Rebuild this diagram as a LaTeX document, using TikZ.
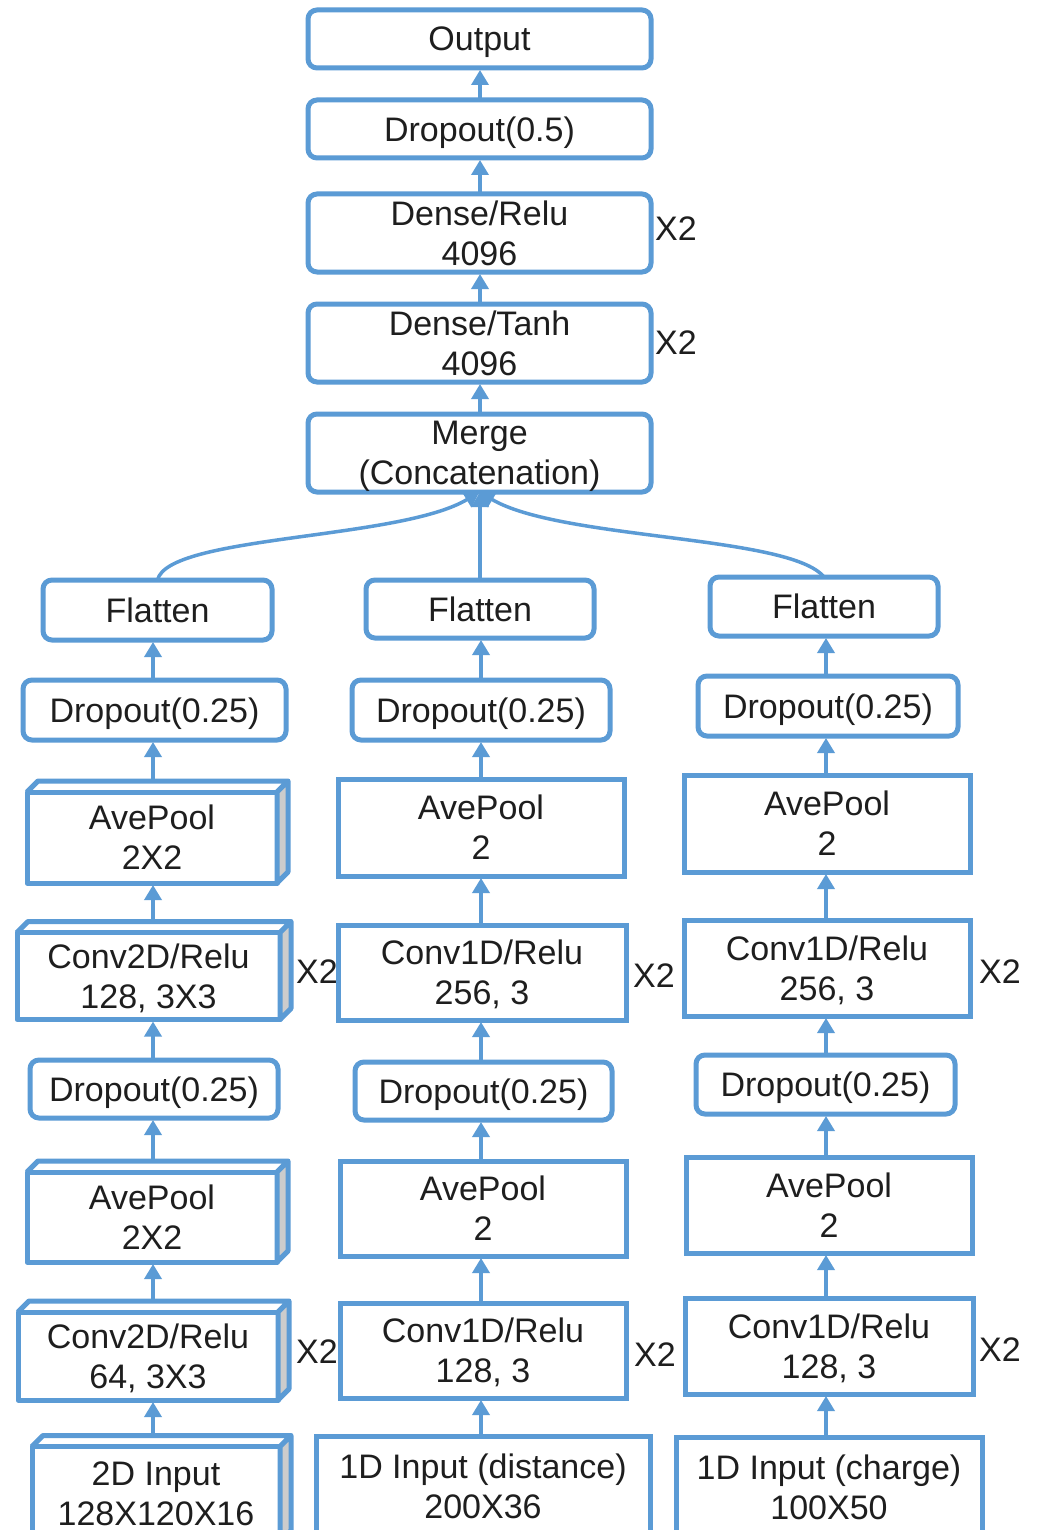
\documentclass[tikz,border=0pt]{standalone}
\usepackage{fontspec}
\setmainfont{Liberation Sans}
\usetikzlibrary{arrows.meta,calc}
\definecolor{lineblue}{HTML}{5B9BD5}
\definecolor{txt}{HTML}{1E1E1E}
\tikzset{
 base/.style={draw=lineblue, line width=5pt, fill=white, outer sep=0pt, inner sep=0pt, align=center, text=txt, text depth=0pt, font=\fontsize{34}{40}\selectfont},
 rbox/.style={base, rounded corners=9pt},
 sbox/.style={base},
 cbox/.style={base, line join=round},
 arr/.style={draw=lineblue, line width=3.5pt, -{Triangle[width=17pt,length=15pt]}, shorten >=2pt},
 rep/.style={text=txt, font=\fontsize{34}{40}\selectfont, inner sep=0pt},
}
\newcommand{\drawcube}[1]{%
  \fill[gray!40] (#1.north east) -- ($(#1.north east)+(11,-11)$) -- ($(#1.south east)+(11,-11)$) -- (#1.south east) -- cycle;
  \draw[draw=lineblue, line width=5pt, line join=round] (#1.north west) -- ($(#1.north west)+(11,-11)$) -- ($(#1.north east)+(11,-11)$) -- ($(#1.south east)+(11,-11)$) -- (#1.south east) -- (#1.north east) -- ($(#1.north east)+(11,-11)$);
}
\begin{document}
\begin{tikzpicture}[x=1pt,y=-1pt]
\useasboundingbox (0,0) rectangle (1038,1530);
\clip (0,0) rectangle (1038,1530);
\fill[white] (0,0) rectangle (1038,1530);
\coordinate (tx) at (480,0);
\coordinate (lx) at (153,0);
\coordinate (mx) at (481,0);
\coordinate (rx) at (826,0);

% top column
\node[rbox, minimum width=343pt, minimum height=58pt] (out) at (479.5,39) {Output};
\node[rbox, minimum width=343pt, minimum height=58pt] (drop5) at (479.5,129) {Dropout(0.5)};
\node[rbox, minimum width=343pt, minimum height=78pt] (dense) at (479.5,233) {Dense/Relu\\4096};
\node[rbox, minimum width=343pt, minimum height=78pt] (tanh) at (479.5,343) {Dense/Tanh\\4096};
\node[rbox, minimum width=343pt, minimum height=78pt] (merge) at (479.5,453) {Merge\\(Concatenation)};
\node[rep] (x2a) at (676,229) {X2};
\node[rep] (x2b) at (676,343) {X2};

% left column
\node[rbox, minimum width=229pt, minimum height=60pt] (lflat) at (157.5,610) {Flatten};
\node[rbox, minimum width=263pt, minimum height=60pt] (ldrop1) at (154.5,710) {Dropout(0.25)};
\node[cbox, minimum width=250pt, minimum height=91pt] (lpool1) at (152,837.5) {AvePool\\2X2};
\node[cbox, minimum width=263pt, minimum height=87pt] (lconv1) at (148.5,976) {Conv2D/Relu\\128, 3X3};
\node[rbox, minimum width=248pt, minimum height=58pt] (ldrop2) at (154,1089) {Dropout(0.25)};
\node[cbox, minimum width=250pt, minimum height=90pt] (lpool2) at (152,1217) {AvePool\\2X2};
\node[cbox, minimum width=260pt, minimum height=88pt] (lconv2) at (148,1356) {Conv2D/Relu\\64, 3X3};
\node[cbox, minimum width=248pt, minimum height=95pt] (linput) at (156,1494) {2D Input\\128X120X16};
\drawcube{lpool1}
\drawcube{lconv1}
\drawcube{lpool2}
\drawcube{lconv2}
\drawcube{linput}
\node[rep] (x2c) at (317,972) {X2};
\node[rep] (x2d) at (317,1352) {X2};

% middle column
\node[rbox, minimum width=228pt, minimum height=58pt] (mflat) at (480,609) {Flatten};
\node[rbox, minimum width=258pt, minimum height=60pt] (mdrop1) at (481,710) {Dropout(0.25)};
\node[sbox, minimum width=286pt, minimum height=97pt] (mpool1) at (481,827.5) {AvePool\\2};
\node[sbox, minimum width=288pt, minimum height=95pt] (mconv1) at (482,972.5) {Conv1D/Relu\\256, 3};
\node[rbox, minimum width=257pt, minimum height=58pt] (mdrop2) at (483.5,1091) {Dropout(0.25)};
\node[sbox, minimum width=286pt, minimum height=95pt] (mpool2) at (483,1208.5) {AvePool\\2};
\node[sbox, minimum width=286pt, minimum height=95pt] (mconv2) at (483,1350.5) {Conv1D/Relu\\128, 3};
\node[sbox, minimum width=334pt, minimum height=100pt] (minput) at (483,1486) {1D Input (distance)\\200X36};
\node[rep] (x2e) at (654,976) {X2};
\node[rep] (x2f) at (655,1355) {X2};

% right column
\node[rbox, minimum width=228pt, minimum height=59pt] (rflat) at (824,606.5) {Flatten};
\node[rbox, minimum width=260pt, minimum height=60pt] (rdrop1) at (828,706) {Dropout(0.25)};
\node[sbox, minimum width=286pt, minimum height=97pt] (rpool1) at (827,823.5) {AvePool\\2};
\node[sbox, minimum width=286pt, minimum height=96pt] (rconv1) at (827,968) {Conv1D/Relu\\256, 3};
\node[rbox, minimum width=259pt, minimum height=59pt] (rdrop2) at (825.5,1084.5) {Dropout(0.25)};
\node[sbox, minimum width=286pt, minimum height=96pt] (rpool2) at (829,1205) {AvePool\\2};
\node[sbox, minimum width=288pt, minimum height=96pt] (rconv2) at (829,1346) {Conv1D/Relu\\128, 3};
\node[sbox, minimum width=306pt, minimum height=100pt] (rinput) at (829,1487) {1D Input (charge)\\100X50};
\node[rep] (x2g) at (1000,972) {X2};
\node[rep] (x2h) at (1000,1350) {X2};

% top arrows
\draw[arr] (drop5.north -| tx) -- (out.south -| tx);
\draw[arr] (dense.north -| tx) -- (drop5.south -| tx);
\draw[arr] (tanh.north -| tx) -- (dense.south -| tx);
\draw[arr] (merge.north -| tx) -- (tanh.south -| tx);

% merge connectors
\draw[arr, shorten >=0pt] (lflat.north) .. controls (168,535) and (400,540) .. (merge.south);
\draw[arr, shorten >=0pt] (mflat.north -| tx) -- (merge.south -| tx);
\draw[arr, shorten >=0pt] (rflat.north) .. controls (790,535) and (560,540) .. (merge.south);

% left arrows
\draw[arr] (ldrop1.north -| lx) -- (lflat.south -| lx);
\draw[arr, shorten <=11pt] (lpool1.north -| lx) -- (ldrop1.south -| lx);
\draw[arr, shorten <=11pt] (lconv1.north -| lx) -- (lpool1.south -| lx);
\draw[arr] (ldrop2.north -| lx) -- (lconv1.south -| lx);
\draw[arr, shorten <=11pt] (lpool2.north -| lx) -- (ldrop2.south -| lx);
\draw[arr, shorten <=11pt] (lconv2.north -| lx) -- (lpool2.south -| lx);
\draw[arr, shorten <=11pt] (linput.north -| lx) -- (lconv2.south -| lx);

% middle arrows
\draw[arr] (mdrop1.north -| mx) -- (mflat.south -| mx);
\draw[arr] (mpool1.north -| mx) -- (mdrop1.south -| mx);
\draw[arr] (mconv1.north -| mx) -- (mpool1.south -| mx);
\draw[arr] (mdrop2.north -| mx) -- (mconv1.south -| mx);
\draw[arr] (mpool2.north -| mx) -- (mdrop2.south -| mx);
\draw[arr] (mconv2.north -| mx) -- (mpool2.south -| mx);
\draw[arr] (minput.north -| mx) -- (mconv2.south -| mx);

% right arrows
\draw[arr] (rdrop1.north -| rx) -- (rflat.south -| rx);
\draw[arr] (rpool1.north -| rx) -- (rdrop1.south -| rx);
\draw[arr] (rconv1.north -| rx) -- (rpool1.south -| rx);
\draw[arr] (rdrop2.north -| rx) -- (rconv1.south -| rx);
\draw[arr] (rpool2.north -| rx) -- (rdrop2.south -| rx);
\draw[arr] (rconv2.north -| rx) -- (rpool2.south -| rx);
\draw[arr] (rinput.north -| rx) -- (rconv2.south -| rx);
\end{tikzpicture}
\end{document}
